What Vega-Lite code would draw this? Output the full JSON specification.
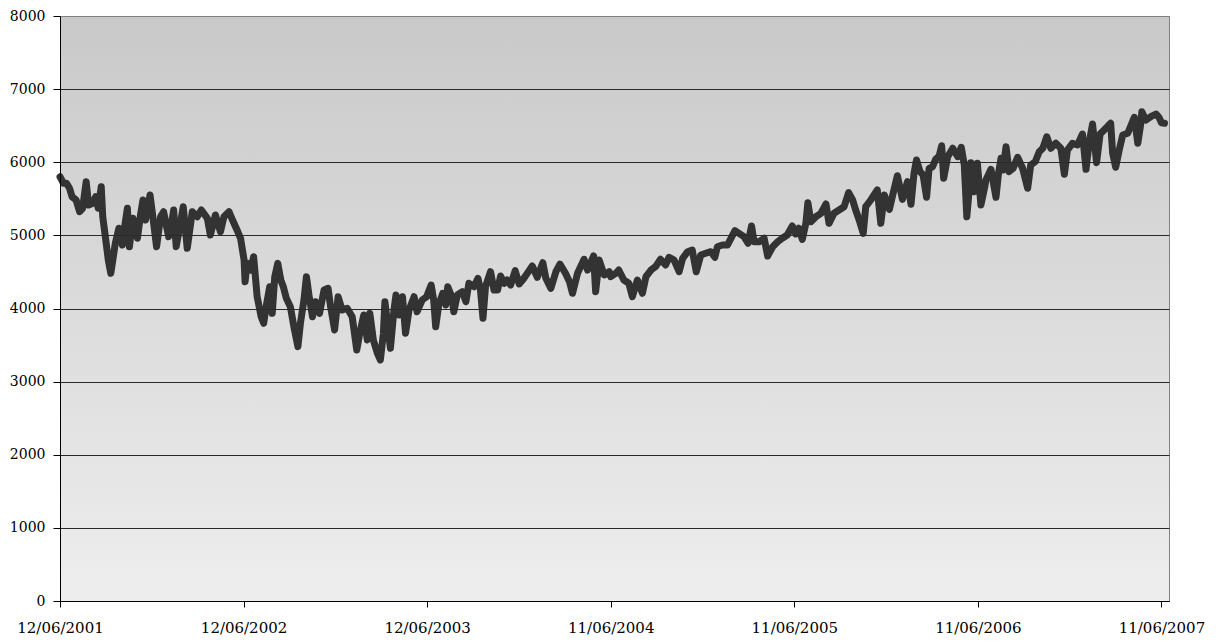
{
  "$schema": "https://vega.github.io/schema/vega-lite/v6.json",
  "width": 1109,
  "height": 585,
  "autosize": {"type": "none"},
  "padding": {"left": 60, "top": 16, "right": 47, "bottom": 43},
  "background": "#ffffff",
  "config": {
    "view": {"stroke": "#808080", "strokeWidth": 1},
    "axis": {"labelFont": "DejaVu Serif", "labelFontSize": 14, "labelColor": "#000000"}
  },
  "layer": [
    {
      "data": {"values": [{}]},
      "mark": {
        "type": "rect",
        "color": {
          "gradient": "linear", "x1": 0, "y1": 0, "x2": 0, "y2": 1,
          "stops": [{"offset": 0, "color": "#c9c9c9"}, {"offset": 1, "color": "#eeeeee"}]
        }
      },
      "encoding": {
        "y": {"datum": 0, "type": "quantitative", "scale": {"domain": [0, 8000], "nice": false}},
        "y2": {"datum": 8000}
      }
    },
    {
      "data": {
        "values": [
          {"d":"2001-06-12","v":5802},{"d":"2001-06-19","v":5712},{"d":"2001-06-25","v":5712},{"d":"2001-07-01","v":5644},
          {"d":"2001-07-06","v":5529},{"d":"2001-07-14","v":5484},{"d":"2001-07-21","v":5324},{"d":"2001-07-27","v":5370},
          {"d":"2001-08-03","v":5734},{"d":"2001-08-08","v":5415},{"d":"2001-08-16","v":5439},{"d":"2001-08-22","v":5529},
          {"d":"2001-08-27","v":5370},{"d":"2001-09-02","v":5666},{"d":"2001-09-05","v":5255},{"d":"2001-09-11","v":4937},
          {"d":"2001-09-16","v":4663},{"d":"2001-09-21","v":4481},{"d":"2001-09-25","v":4663},{"d":"2001-09-30","v":4892},
          {"d":"2001-10-07","v":5097},{"d":"2001-10-14","v":4868},{"d":"2001-10-19","v":5142},{"d":"2001-10-24","v":5370},
          {"d":"2001-10-28","v":4845},{"d":"2001-11-04","v":5233},{"d":"2001-11-13","v":4960},{"d":"2001-11-19","v":5279},
          {"d":"2001-11-24","v":5484},{"d":"2001-11-29","v":5210},{"d":"2001-12-08","v":5552},{"d":"2001-12-14","v":5233},
          {"d":"2001-12-21","v":4845},{"d":"2001-12-29","v":5255},{"d":"2002-01-04","v":5324},{"d":"2002-01-14","v":4982},
          {"d":"2002-01-21","v":5210},{"d":"2002-01-24","v":5347},{"d":"2002-01-29","v":4845},{"d":"2002-02-07","v":5187},
          {"d":"2002-02-12","v":5392},{"d":"2002-02-20","v":4823},{"d":"2002-03-02","v":5324},{"d":"2002-03-12","v":5255},
          {"d":"2002-03-20","v":5347},{"d":"2002-04-01","v":5233},{"d":"2002-04-07","v":5005},{"d":"2002-04-17","v":5279},
          {"d":"2002-04-27","v":5050},{"d":"2002-05-04","v":5255},{"d":"2002-05-14","v":5324},{"d":"2002-05-21","v":5210},
          {"d":"2002-05-30","v":5073},{"d":"2002-06-06","v":4960},{"d":"2002-06-13","v":4663},{"d":"2002-06-15","v":4366},
          {"d":"2002-06-19","v":4618},{"d":"2002-06-26","v":4526},{"d":"2002-07-02","v":4708},{"d":"2002-07-09","v":4161},
          {"d":"2002-07-17","v":3888},{"d":"2002-07-22","v":3798},{"d":"2002-07-28","v":4071},{"d":"2002-08-03","v":4298},
          {"d":"2002-08-08","v":3934},{"d":"2002-08-13","v":4435},{"d":"2002-08-19","v":4618},{"d":"2002-08-25","v":4390},
          {"d":"2002-08-30","v":4298},{"d":"2002-09-05","v":4139},{"d":"2002-09-13","v":4025},{"d":"2002-09-20","v":3751},
          {"d":"2002-09-28","v":3478},{"d":"2002-10-03","v":3798},{"d":"2002-10-10","v":4116},{"d":"2002-10-15","v":4435},
          {"d":"2002-10-20","v":4185},{"d":"2002-10-27","v":3888},{"d":"2002-11-02","v":4093},{"d":"2002-11-10","v":3934},
          {"d":"2002-11-19","v":4253},{"d":"2002-11-27","v":4276},{"d":"2002-12-02","v":4025},{"d":"2002-12-10","v":3706},
          {"d":"2002-12-17","v":4161},{"d":"2002-12-25","v":3979},{"d":"2003-01-04","v":4003},{"d":"2003-01-14","v":3888},
          {"d":"2003-01-23","v":3432},{"d":"2003-01-29","v":3661},{"d":"2003-02-06","v":3911},{"d":"2003-02-13","v":3569},
          {"d":"2003-02-18","v":3934},{"d":"2003-02-25","v":3569},{"d":"2003-03-05","v":3387},{"d":"2003-03-11","v":3296},
          {"d":"2003-03-17","v":3661},{"d":"2003-03-20","v":4093},{"d":"2003-03-26","v":3751},{"d":"2003-03-31","v":3456},
          {"d":"2003-04-07","v":3979},{"d":"2003-04-11","v":4185},{"d":"2003-04-17","v":3911},{"d":"2003-04-24","v":4161},
          {"d":"2003-04-30","v":3661},{"d":"2003-05-07","v":3979},{"d":"2003-05-17","v":4161},{"d":"2003-05-23","v":3956},
          {"d":"2003-06-02","v":4116},{"d":"2003-06-11","v":4161},{"d":"2003-06-16","v":4253},{"d":"2003-06-20","v":4321},
          {"d":"2003-06-25","v":4116},{"d":"2003-06-29","v":3751},{"d":"2003-07-05","v":4048},{"d":"2003-07-13","v":4208},
          {"d":"2003-07-19","v":4048},{"d":"2003-07-23","v":4298},{"d":"2003-07-31","v":4161},{"d":"2003-08-04","v":3956},
          {"d":"2003-08-11","v":4185},{"d":"2003-08-21","v":4230},{"d":"2003-08-28","v":4093},{"d":"2003-09-03","v":4345},
          {"d":"2003-09-13","v":4298},{"d":"2003-09-21","v":4413},{"d":"2003-09-26","v":4253},{"d":"2003-10-01","v":3866},
          {"d":"2003-10-06","v":4298},{"d":"2003-10-16","v":4503},{"d":"2003-10-23","v":4253},{"d":"2003-10-30","v":4253},
          {"d":"2003-11-05","v":4444},{"d":"2003-11-12","v":4345},{"d":"2003-11-18","v":4390},{"d":"2003-11-25","v":4321},
          {"d":"2003-12-04","v":4517},{"d":"2003-12-12","v":4335},{"d":"2003-12-20","v":4399},{"d":"2003-12-28","v":4481},
          {"d":"2004-01-07","v":4581},{"d":"2004-01-17","v":4427},{"d":"2004-01-28","v":4626},{"d":"2004-02-03","v":4413},
          {"d":"2004-02-13","v":4276},{"d":"2004-02-23","v":4503},{"d":"2004-03-02","v":4608},{"d":"2004-03-13","v":4481},
          {"d":"2004-03-21","v":4366},{"d":"2004-03-27","v":4208},{"d":"2004-04-06","v":4481},{"d":"2004-04-19","v":4673},
          {"d":"2004-04-26","v":4526},{"d":"2004-05-08","v":4718},{"d":"2004-05-12","v":4230},{"d":"2004-05-19","v":4663},
          {"d":"2004-05-29","v":4458},{"d":"2004-06-08","v":4503},{"d":"2004-06-11","v":4435},{"d":"2004-06-21","v":4481},
          {"d":"2004-06-27","v":4526},{"d":"2004-07-07","v":4390},{"d":"2004-07-17","v":4345},{"d":"2004-07-24","v":4161},
          {"d":"2004-08-03","v":4390},{"d":"2004-08-13","v":4208},{"d":"2004-08-20","v":4435},{"d":"2004-08-30","v":4526},
          {"d":"2004-09-08","v":4572},{"d":"2004-09-18","v":4673},{"d":"2004-09-28","v":4595},{"d":"2004-10-05","v":4700},
          {"d":"2004-10-15","v":4663},{"d":"2004-10-25","v":4503},{"d":"2004-11-01","v":4686},{"d":"2004-11-11","v":4777},
          {"d":"2004-11-20","v":4800},{"d":"2004-11-28","v":4503},{"d":"2004-12-07","v":4732},{"d":"2004-12-17","v":4755},
          {"d":"2004-12-27","v":4777},{"d":"2005-01-04","v":4700},{"d":"2005-01-09","v":4845},{"d":"2005-01-19","v":4868},
          {"d":"2005-01-29","v":4868},{"d":"2005-02-05","v":4960},{"d":"2005-02-13","v":5064},{"d":"2005-02-21","v":5028},
          {"d":"2005-03-03","v":4982},{"d":"2005-03-11","v":4892},{"d":"2005-03-18","v":5128},{"d":"2005-03-23","v":4913},
          {"d":"2005-04-02","v":4913},{"d":"2005-04-12","v":4960},{"d":"2005-04-19","v":4718},{"d":"2005-04-29","v":4845},
          {"d":"2005-05-09","v":4913},{"d":"2005-05-18","v":4960},{"d":"2005-05-28","v":5005},{"d":"2005-06-07","v":5128},
          {"d":"2005-06-14","v":5019},{"d":"2005-06-20","v":5097},{"d":"2005-06-27","v":4946},{"d":"2005-07-04","v":5165},
          {"d":"2005-07-08","v":5447},{"d":"2005-07-14","v":5187},{"d":"2005-07-24","v":5255},{"d":"2005-08-03","v":5302},
          {"d":"2005-08-13","v":5429},{"d":"2005-08-19","v":5165},{"d":"2005-08-29","v":5302},{"d":"2005-09-08","v":5347},
          {"d":"2005-09-18","v":5392},{"d":"2005-09-27","v":5584},{"d":"2005-10-05","v":5484},{"d":"2005-10-11","v":5347},
          {"d":"2005-10-18","v":5210},{"d":"2005-10-26","v":5028},{"d":"2005-10-31","v":5392},{"d":"2005-11-10","v":5484},
          {"d":"2005-11-23","v":5620},{"d":"2005-11-30","v":5165},{"d":"2005-12-07","v":5552},{"d":"2005-12-17","v":5356},
          {"d":"2005-12-26","v":5620},{"d":"2006-01-02","v":5816},{"d":"2006-01-12","v":5493},{"d":"2006-01-22","v":5734},
          {"d":"2006-01-29","v":5425},{"d":"2006-02-04","v":5849},{"d":"2006-02-09","v":6031},{"d":"2006-02-16","v":5871},
          {"d":"2006-02-22","v":5826},{"d":"2006-03-01","v":5521},{"d":"2006-03-06","v":5917},{"d":"2006-03-13","v":5939},
          {"d":"2006-03-19","v":6040},{"d":"2006-03-26","v":6085},{"d":"2006-03-31","v":6226},{"d":"2006-04-04","v":5780},
          {"d":"2006-04-12","v":6076},{"d":"2006-04-22","v":6191},{"d":"2006-05-02","v":6076},{"d":"2006-05-09","v":6204},
          {"d":"2006-05-15","v":5962},{"d":"2006-05-20","v":5255},{"d":"2006-05-25","v":5644},{"d":"2006-05-28","v":5994},
          {"d":"2006-06-04","v":5597},{"d":"2006-06-10","v":5986},{"d":"2006-06-17","v":5415},{"d":"2006-06-25","v":5675},
          {"d":"2006-06-27","v":5757},{"d":"2006-07-07","v":5903},{"d":"2006-07-17","v":5521},{"d":"2006-07-22","v":5849},
          {"d":"2006-07-27","v":6054},{"d":"2006-07-31","v":5894},{"d":"2006-08-06","v":6213},{"d":"2006-08-12","v":5871},
          {"d":"2006-08-20","v":5917},{"d":"2006-08-29","v":6068},{"d":"2006-09-08","v":5917},{"d":"2006-09-18","v":5644},
          {"d":"2006-09-24","v":5962},{"d":"2006-10-03","v":6007},{"d":"2006-10-11","v":6144},{"d":"2006-10-18","v":6191},
          {"d":"2006-10-26","v":6349},{"d":"2006-11-03","v":6191},{"d":"2006-11-13","v":6259},{"d":"2006-11-23","v":6191},
          {"d":"2006-11-30","v":5835},{"d":"2006-12-06","v":6167},{"d":"2006-12-16","v":6259},{"d":"2006-12-26","v":6236},
          {"d":"2007-01-05","v":6386},{"d":"2007-01-12","v":5903},{"d":"2007-01-18","v":6259},{"d":"2007-01-25","v":6523},
          {"d":"2007-02-02","v":5994},{"d":"2007-02-09","v":6386},{"d":"2007-02-17","v":6441},{"d":"2007-03-02","v":6533},
          {"d":"2007-03-06","v":6122},{"d":"2007-03-12","v":5931},{"d":"2007-03-19","v":6167},{"d":"2007-03-26","v":6373},
          {"d":"2007-04-05","v":6396},{"d":"2007-04-18","v":6615},{"d":"2007-04-25","v":6259},{"d":"2007-05-01","v":6533},
          {"d":"2007-05-03","v":6691},{"d":"2007-05-11","v":6578},{"d":"2007-05-21","v":6623},{"d":"2007-05-31","v":6660},
          {"d":"2007-06-06","v":6615},{"d":"2007-06-11","v":6541},{"d":"2007-06-17","v":6533}
        ]
      },
      "mark": {"type": "line", "color": "#333333", "strokeWidth": 7, "strokeJoin": "round", "strokeCap": "round"},
      "encoding": {
        "x": {
          "field": "d", "type": "temporal",
          "scale": {"type": "utc", "domain": [{"year": 2001, "month": 6, "date": 12, "utc": true}, {"year": 2007, "month": 6, "date": 26, "utc": true}], "nice": false},
          "axis": {
            "title": null, "grid": false, "format": "%d/%m/%Y",
            "values": [
              {"year": 2001, "month": 6, "date": 12, "utc": true},
              {"year": 2002, "month": 6, "date": 12, "utc": true},
              {"year": 2003, "month": 6, "date": 12, "utc": true},
              {"year": 2004, "month": 6, "date": 11, "utc": true},
              {"year": 2005, "month": 6, "date": 11, "utc": true},
              {"year": 2006, "month": 6, "date": 11, "utc": true},
              {"year": 2007, "month": 6, "date": 11, "utc": true}
            ],
            "domainColor": "#000000", "tickColor": "#000000", "tickSize": 6,
            "labelFontSize": 15, "labelPadding": 13, "labelFlush": false, "labelOverlap": false, "zindex": 1
          }
        },
        "y": {
          "field": "v", "type": "quantitative",
          "scale": {"domain": [0, 8000], "nice": false},
          "axis": {
            "title": null, "values": [0, 1000, 2000, 3000, 4000, 5000, 6000, 7000, 8000],
            "format": "d", "grid": true,
            "gridColor": {"condition": {"test": "datum.value == 8000", "value": "#808080"}, "value": "#2a2a2a"},
            "gridWidth": 1, "domainColor": "#000000", "tickColor": "#000000", "tickSize": 7,
            "labelPadding": 8, "zindex": 1
          }
        }
      }
    }
  ]
}
